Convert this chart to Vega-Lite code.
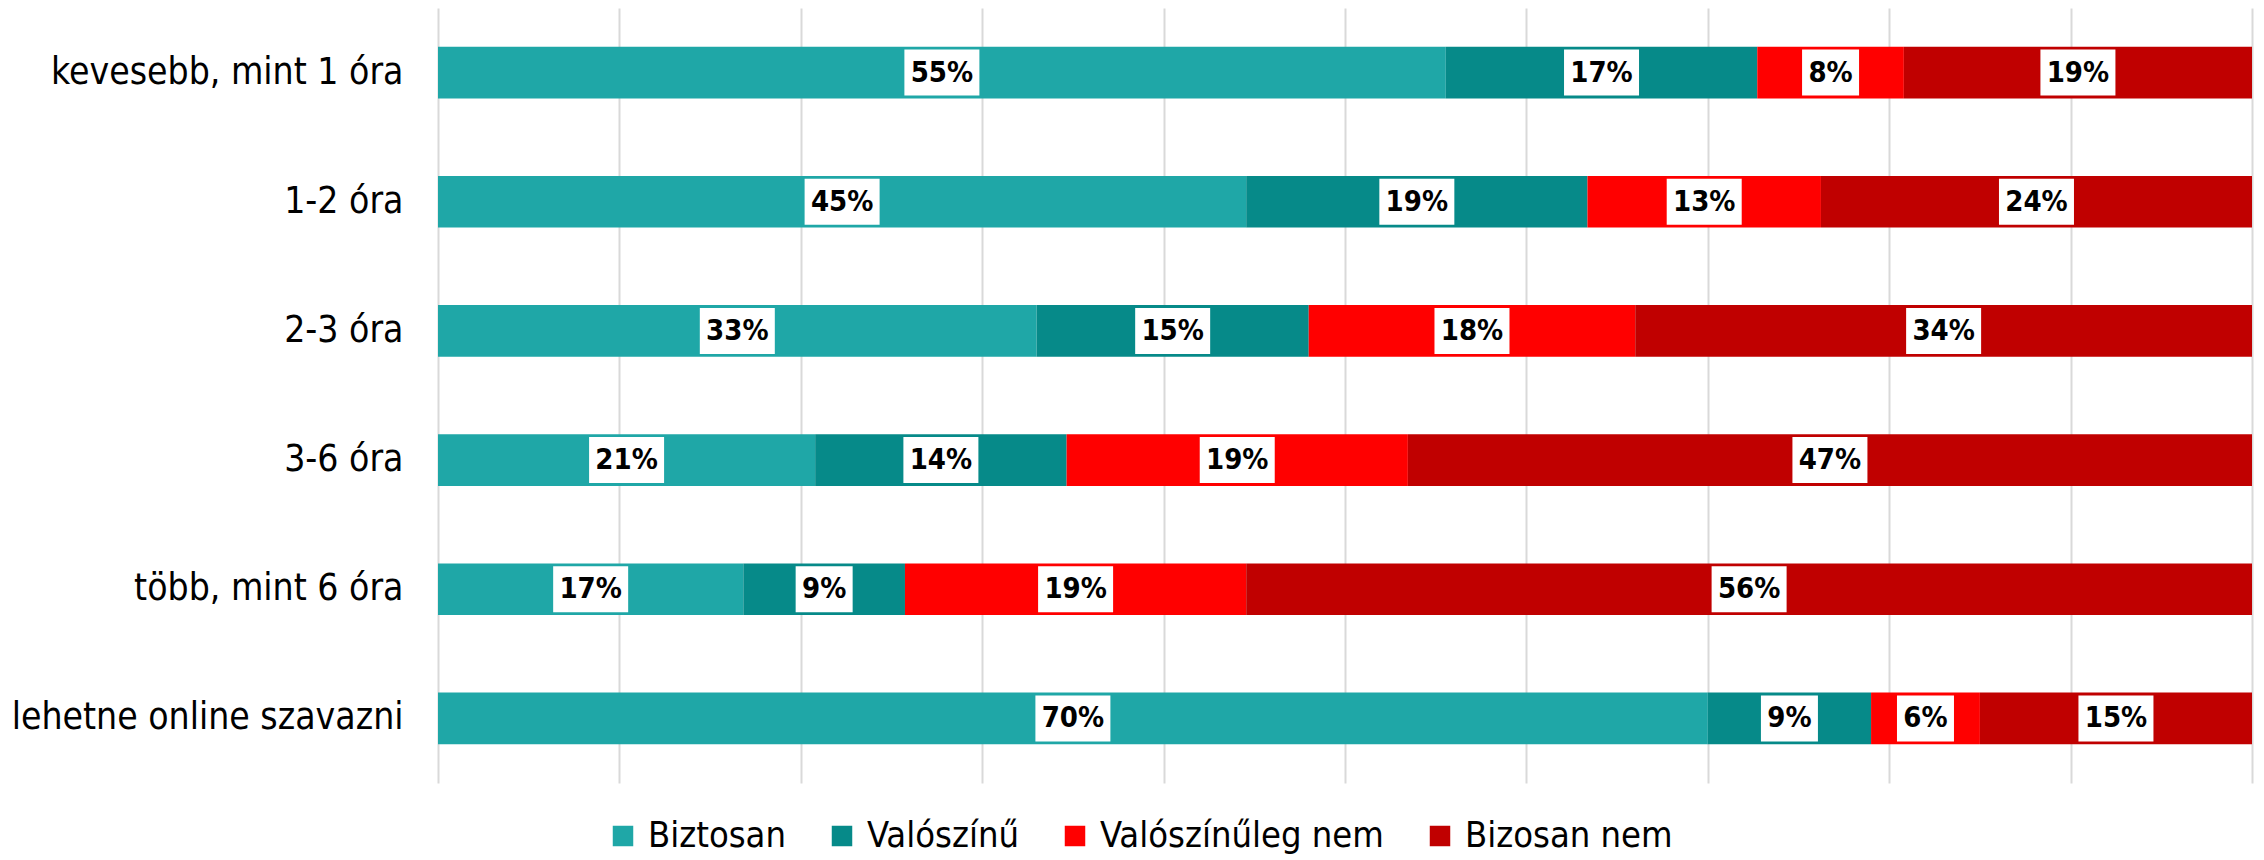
{
  "$schema": "https://vega.github.io/schema/vega-lite/v6.json",
  "width": 1814,
  "height": 775,
  "autosize": {"type": "none"},
  "padding": {"left": 438, "top": 8, "right": 12, "bottom": 77},
  "background": "white",
  "config": {"view": {"stroke": null}, "font": "DejaVu Sans Condensed"},
  "data": {
    "values": [
      {"cat": "kevesebb, mint 1 óra", "s": "Biztosan", "k": 1, "v": 0.55},
      {"cat": "kevesebb, mint 1 óra", "s": "Valószínű", "k": 2, "v": 0.17},
      {"cat": "kevesebb, mint 1 óra", "s": "Valószínűleg nem", "k": 3, "v": 0.08},
      {"cat": "kevesebb, mint 1 óra", "s": "Bizosan nem", "k": 4, "v": 0.19},
      {"cat": "1-2 óra", "s": "Biztosan", "k": 1, "v": 0.45},
      {"cat": "1-2 óra", "s": "Valószínű", "k": 2, "v": 0.19},
      {"cat": "1-2 óra", "s": "Valószínűleg nem", "k": 3, "v": 0.13},
      {"cat": "1-2 óra", "s": "Bizosan nem", "k": 4, "v": 0.24},
      {"cat": "2-3 óra", "s": "Biztosan", "k": 1, "v": 0.33},
      {"cat": "2-3 óra", "s": "Valószínű", "k": 2, "v": 0.15},
      {"cat": "2-3 óra", "s": "Valószínűleg nem", "k": 3, "v": 0.18},
      {"cat": "2-3 óra", "s": "Bizosan nem", "k": 4, "v": 0.34},
      {"cat": "3-6 óra", "s": "Biztosan", "k": 1, "v": 0.21},
      {"cat": "3-6 óra", "s": "Valószínű", "k": 2, "v": 0.14},
      {"cat": "3-6 óra", "s": "Valószínűleg nem", "k": 3, "v": 0.19},
      {"cat": "3-6 óra", "s": "Bizosan nem", "k": 4, "v": 0.47},
      {"cat": "több, mint 6 óra", "s": "Biztosan", "k": 1, "v": 0.17},
      {"cat": "több, mint 6 óra", "s": "Valószínű", "k": 2, "v": 0.09},
      {"cat": "több, mint 6 óra", "s": "Valószínűleg nem", "k": 3, "v": 0.19},
      {"cat": "több, mint 6 óra", "s": "Bizosan nem", "k": 4, "v": 0.56},
      {"cat": "lehetne online szavazni", "s": "Biztosan", "k": 1, "v": 0.70},
      {"cat": "lehetne online szavazni", "s": "Valószínű", "k": 2, "v": 0.09},
      {"cat": "lehetne online szavazni", "s": "Valószínűleg nem", "k": 3, "v": 0.06},
      {"cat": "lehetne online szavazni", "s": "Bizosan nem", "k": 4, "v": 0.15}
    ]
  },
  "transform": [
    {"stack": "v", "groupby": ["cat"], "sort": [{"field": "k", "order": "ascending"}], "offset": "normalize", "as": ["x0", "x1"]},
    {"calculate": "(datum.x0 + datum.x1) / 2", "as": "mid"}
  ],
  "encoding": {
    "y": {
      "field": "cat",
      "type": "nominal",
      "sort": ["kevesebb, mint 1 óra", "1-2 óra", "2-3 óra", "3-6 óra", "több, mint 6 óra", "lehetne online szavazni"],
      "scale": {"paddingInner": 0.6, "paddingOuter": 0.3},
      "axis": {
        "title": null,
        "ticks": false,
        "domain": false,
        "labelFontSize": 37,
        "labelColor": "#000000",
        "labelPadding": 35,
        "labelLimit": 600,
        "labelFont": "DejaVu Sans Condensed"
      }
    }
  },
  "layer": [
    {
      "mark": {"type": "bar"},
      "encoding": {
        "x": {
          "field": "x0",
          "type": "quantitative",
          "scale": {"domain": [0, 1], "nice": false, "zero": false},
          "axis": {
            "title": null,
            "grid": true,
            "values": [0, 0.1, 0.2, 0.3, 0.4, 0.5, 0.6, 0.7, 0.8, 0.9, 1],
            "labels": false,
            "ticks": false,
            "domain": false,
            "gridColor": "#d9d9d9",
            "gridWidth": 2
          }
        },
        "x2": {"field": "x1"},
        "color": {
          "field": "s",
          "type": "nominal",
          "scale": {
            "domain": ["Biztosan", "Valószínű", "Valószínűleg nem", "Bizosan nem"],
            "range": ["#1fa7a7", "#068a89", "#ff0000", "#c00000"]
          },
          "legend": {
            "title": null,
            "orient": "none",
            "legendX": 167,
            "legendY": 810,
            "direction": "horizontal",
            "symbolType": "square",
            "symbolSize": 420,
            "symbolStrokeWidth": 0,
            "labelFontSize": 36,
            "labelFont": "DejaVu Sans Condensed",
            "labelColor": "#000000",
            "labelLimit": 600,
            "labelOffset": 7,
            "columnPadding": 38,
            "padding": 0
          }
        }
      }
    },
    {
      "mark": {"type": "point", "filled": true, "fill": "white", "opacity": 1, "size": 5625, "strokeWidth": 0},
      "encoding": {
        "x": {"field": "mid", "type": "quantitative"},
        "shape": {
          "condition": {"test": "datum.v < 0.1", "value": "M-0.76,-0.613L0.76,-0.613L0.76,0.613L-0.76,0.613Z"},
          "value": "M-1,-0.613L1,-0.613L1,0.613L-1,0.613Z"
        }
      }
    },
    {
      "mark": {"type": "text", "fontWeight": "bold", "fontSize": 29, "color": "#000000", "font": "DejaVu Sans Condensed"},
      "encoding": {
        "x": {"field": "mid", "type": "quantitative"},
        "text": {"field": "v", "type": "quantitative", "format": ".0%"}
      }
    }
  ]
}
